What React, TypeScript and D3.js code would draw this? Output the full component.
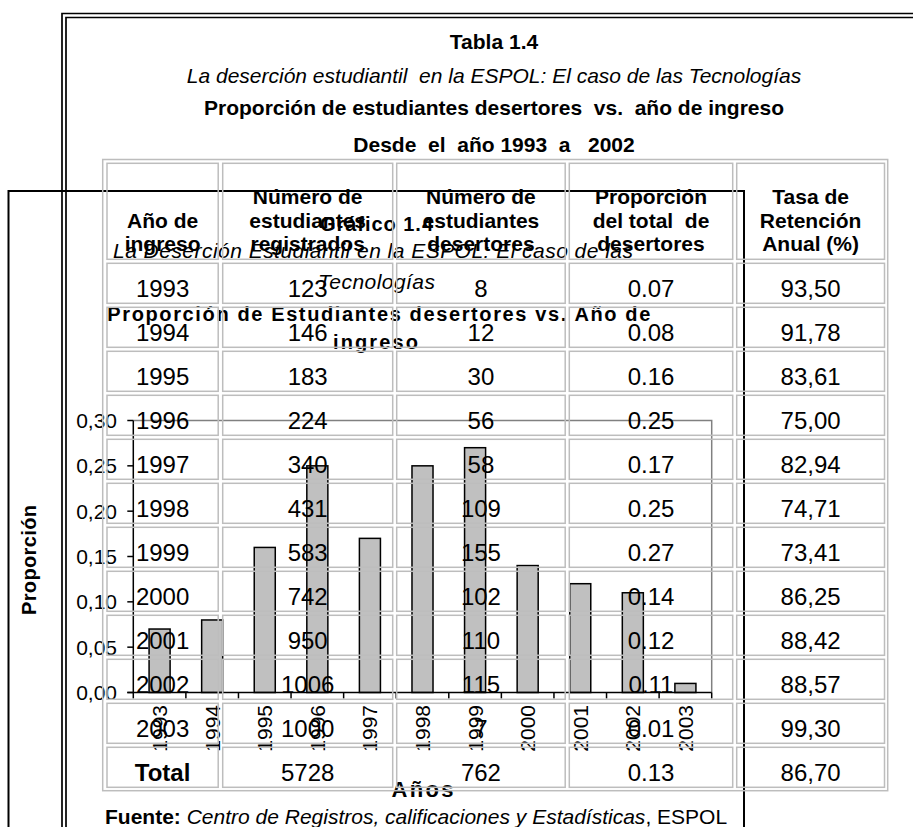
import React from "react";
import * as d3 from "d3";

const years = ["1993", "1994", "1995", "1996", "1997", "1998", "1999", "2000", "2001", "2002", "2003"];
const registrados = [123, 146, 183, 224, 340, 431, 583, 742, 950, 1006, 1000];
const desertores = [8, 12, 30, 56, 58, 109, 155, 102, 110, 115, 7];
const proporcion = [0.07, 0.08, 0.16, 0.25, 0.17, 0.25, 0.27, 0.14, 0.12, 0.11, 0.01];
const retencion = [93.5, 91.78, 83.61, 75.0, 82.94, 74.71, 73.41, 86.25, 88.42, 88.57, 99.3];
const totalRow = { label: "Total", registrados: 5728, desertores: 762, proporcion: 0.13, retencion: 86.7 };

const headers = [
  ["Año de", "ingreso"],
  ["Número de", "estudiantes", "registrados"],
  ["Número de", "estudiantes", "desertores"],
  ["Proporción", "del total  de", "desertores"],
  ["Tasa de", "Retención", "Anual (%)"],
];

const yTicks = [0, 0.05, 0.1, 0.15, 0.2, 0.25, 0.3];
const docTitles = [
  { text: "Tabla 1.4", bold: true, italic: false },
  { text: "La deserción estudiantil  en la ESPOL: El caso de las Tecnologías", bold: false, italic: true },
  { text: "Proporción de estudiantes desertores  vs.  año de ingreso", bold: true, italic: false },
  { text: "Desde  el  año 1993  a   2002", bold: true, italic: false },
];
const chartTitle = [
  { text: "Gráfico 1.4", bold: true, italic: false },
  { text: "La Deserción Estudiantil en la ESPOL: El caso de las", bold: false, italic: true },
  { text: "Tecnologías", bold: false, italic: true },
  { text: "Proporción de Estudiantes desertores vs. Año de", bold: true, italic: false },
  { text: "ingreso", bold: true, italic: false },
];

const FONT = "'Liberation Sans', Arial, sans-serif";

export default function App() {
  // chart geometry
  const px0 = 133.3, px1 = 711.7, py0 = 420.5, py1 = 692.5;
  const x = d3.scaleBand<string>().domain(years).range([px0, px1]).paddingInner(0.6).paddingOuter(0.3);
  const step = (px1 - px0) / years.length;
  const y = d3.scaleLinear().domain([0, 0.3]).range([py1, py0]);
  const fmtComma = (v: number) => d3.format(".2f")(v).replace(".", ",");
  const fmt2 = d3.format(".2f");

  // table geometry
  const colX: [number, number][] = [
    [107, 218.2],
    [222.7, 392.7],
    [396.7, 565.2],
    [569.3, 732.7],
    [736.7, 884.5],
  ];
  const headTop = 163.3, headBot = 259.3;
  const rowTop0 = 263.3, rowPitch = 44, rowH = 40;

  const rows: { cells: string[]; bold: boolean }[] = years.map((yr, i) => ({
    cells: [yr, String(registrados[i]), String(desertores[i]), fmt2(proporcion[i]), fmtComma(retencion[i])],
    bold: false,
  }));
  rows.push({
    cells: [totalRow.label, String(totalRow.registrados), String(totalRow.desertores), fmt2(totalRow.proporcion), fmtComma(totalRow.retencion)],
    bold: true,
  });

  const grid = "#bdbdbd";
  const chartTitleBaselines = [231, 258.3, 289, 321, 349];
  const chartTitleSpans: [number, number][] = [
    [320, 113],
    [113, 520],
    [318, 117],
    [107.3, 543],
    [333, 85],
  ];

  return (
    <svg width={913} height={827} style={{ position: "absolute", left: 0, top: 0, background: "#fff" }} fontFamily={FONT}>
      <rect x={0} y={0} width={913} height={827} fill="#fff" />

      {/* chart frame */}
      <path d="M8.5,830 V191 H744 V830" fill="none" stroke="#000" strokeWidth={2} />

      {/* plot area border */}
      <path d={`M${px0},${py0} H${px1} V${py1}`} fill="none" stroke="#808080" strokeWidth={1.5} />

      {/* bars */}
      {years.map((yr, i) => (
        <rect
          key={yr}
          x={x(yr)}
          y={y(proporcion[i])}
          width={x.bandwidth()}
          height={y(0) - y(proporcion[i])}
          fill="#c0c0c0"
          stroke="#000"
          strokeWidth={1.5}
        />
      ))}

      {/* axes */}
      <line x1={px0} x2={px0} y1={py0} y2={py1} stroke="#000" strokeWidth={1.5} />
      <line x1={px0 - 6} x2={px1} y1={py1} y2={py1} stroke="#000" strokeWidth={1.5} />
      {yTicks.map((t) => (
        <g key={t}>
          <line x1={px0 - 6} x2={px0} y1={y(t)} y2={y(t)} stroke="#000" strokeWidth={1.5} />
          <text x={117} y={y(t)} dy="0.36em" textAnchor="end" fontSize={21} fill="#000">
            {fmtComma(t)}
          </text>
        </g>
      ))}
      {d3.range(years.length + 1).map((k) => (
        <line key={k} x1={px0 + k * step} x2={px0 + k * step} y1={py1} y2={py1 + 6} stroke="#000" strokeWidth={1.5} />
      ))}
      {years.map((yr) => (
        <text
          key={yr}
          transform={`translate(${(x(yr) as number) + x.bandwidth() / 2},705) rotate(-90)`}
          dy="0.36em"
          textAnchor="end"
          fontSize={21}
          fill="#000"
        >
          {yr}
        </text>
      ))}
      <text x={(px0 + px1) / 2} y={797} textAnchor="middle" fontSize={22} fontWeight="bold" textLength={62} lengthAdjust="spacing">
        Años
      </text>
      <text transform="translate(36,560) rotate(-90)" textAnchor="middle" fontSize={20} fontWeight="bold" textLength={110} lengthAdjust="spacing">
        Proporción
      </text>

      {/* chart title */}
      {chartTitle.map((t, i) => (
        <text
          key={i}
          x={chartTitleSpans[i][0]}
          y={chartTitleBaselines[i]}
          fontSize={t.bold ? 20 : 21}
          fontWeight={t.bold ? "bold" : "normal"}
          fontStyle={t.italic ? "italic" : "normal"}
          textLength={chartTitleSpans[i][1]}
          lengthAdjust="spacing"
        >
          {t.text}
        </text>
      ))}

      {/* outer document frame */}
      <path d="M62,830 V13.5 H920" fill="none" stroke="#000" strokeWidth={1.7} />
      <path d="M66,830 V17.5 H920" fill="none" stroke="#000" strokeWidth={1.7} />

      {/* document titles */}
      {docTitles.map((t, i) => (
        <text
          key={i}
          x={494}
          y={[49, 82.7, 115, 151.7][i]}
          textAnchor="middle"
          fontSize={21}
          fontWeight={t.bold ? "bold" : "normal"}
          fontStyle={t.italic ? "italic" : "normal"}
          style={{ whiteSpace: "pre" }}
        >
          {t.text}
        </text>
      ))}

      {/* table */}
      <rect x={102.7} y={159.5} width={887.7 - 102.7} height={790.7 - 159.5} fill="none" stroke={grid} strokeWidth={1.5} />
      {colX.map(([a, b], c) => (
        <g key={c}>
          <rect x={a} y={headTop} width={b - a} height={headBot - headTop} fill="none" stroke={grid} strokeWidth={1.5} />
          {headers[c].map((line, li) => {
            const n = headers[c].length;
            const base = 251 - (n - 1 - li) * 23.5;
            return (
              <text key={li} x={(a + b) / 2} y={base} textAnchor="middle" fontSize={21} fontWeight="bold" style={{ whiteSpace: "pre" }}>
                {line}
              </text>
            );
          })}
          {rows.map((r, ri) => {
            const top = rowTop0 + ri * rowPitch;
            return (
              <g key={ri}>
                <rect x={a} y={top} width={b - a} height={rowH} fill="none" stroke={grid} strokeWidth={1.5} />
                <text
                  x={(a + b) / 2}
                  y={top + rowH - 6}
                  textAnchor="middle"
                  fontSize={24}
                  fontWeight={r.bold && c === 0 ? "bold" : "normal"}
                >
                  {r.cells[c]}
                </text>
              </g>
            );
          })}
        </g>
      ))}

      {/* source */}
      <text x={105} y={824} fontSize={21} style={{ whiteSpace: "pre" }}>
        <tspan fontWeight="bold">Fuente:</tspan>
        <tspan fontStyle="italic"> Centro de Registros, calificaciones y Estadísticas</tspan>
        <tspan>, ESPOL</tspan>
      </text>
    </svg>
  );
}
